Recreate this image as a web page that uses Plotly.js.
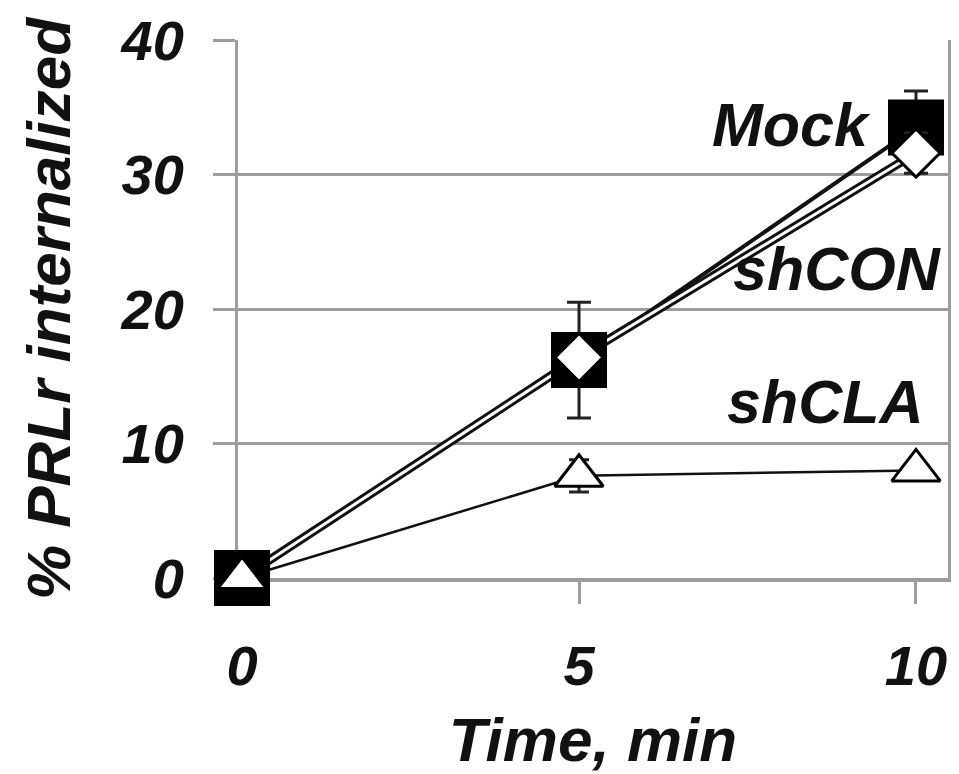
<!DOCTYPE html>
<html>
<head>
<meta charset="utf-8">
<script src="https://cdn.plot.ly/plotly-3.0.1.min.js"></script>
<style>
  html, body { margin: 0; padding: 0; background: #fff; }
  #chart { width: 959px; height: 774px; }
</style>
</head>
<body>
<div id="chart"></div>
<script>
// Time points (min)
const timeMin = [0, 5, 10];

// % PRLr internalized per condition
const mockValues = [0, 16.2, 33.5];
const mockErrors = [0, 4.3, 2.7];

const shconValues = [0, 16.4, 31.6];
const shconErrors = [0, 0.8, 1.5];

const shclaValues = [0, 7.6, 8.0];
const shclaErrors = [0, 1.2, 0];

const seriesLabels = ['Mock', 'shCON', 'shCLA'];
const xTickVals = [0, 5, 10];
const yTickVals = [0, 10, 20, 30, 40];

const gridGray = '#9d9d9d';
const fontFamily = '"Liberation Sans", Arial, sans-serif';
const tickFont = { family: fontFamily, size: 56, color: '#111', weight: 'bold', style: 'italic' };
const titleFont = { family: fontFamily, size: 62, color: '#111', weight: 'bold', style: 'italic' };
const labelFont = { family: fontFamily, size: 61, color: '#111', weight: 'bold', style: 'italic' };

const traces = [
  // connecting lines first, so every marker sits above them
  { x: timeMin, y: shclaValues, mode: 'lines', cliponaxis: false,
    line: { color: '#111', width: 2.5 }, hoverinfo: 'skip' },
  { x: timeMin, y: mockValues, mode: 'lines', cliponaxis: false,
    line: { color: '#111', width: 4 }, hoverinfo: 'skip' },
  { x: timeMin, y: shconValues, mode: 'lines', cliponaxis: false,
    line: { color: '#111', width: 9 }, hoverinfo: 'skip' },
  { x: timeMin, y: shconValues, mode: 'lines', cliponaxis: false,
    line: { color: '#fff', width: 3 }, hoverinfo: 'skip' },
  // markers with error bars
  { x: timeMin, y: mockValues, mode: 'markers', name: seriesLabels[0], cliponaxis: false,
    marker: { symbol: 'square', size: 56, color: '#000', opacity: 1, line: { width: 0 } },
    error_y: { type: 'data', array: mockErrors, visible: true,
               color: '#222', thickness: 3, width: 12 } },
  { x: timeMin, y: shconValues, mode: 'markers', name: seriesLabels[1], cliponaxis: false,
    marker: { symbol: 'diamond', size: [0, 37, 37], color: '#fff', opacity: 1,
              line: { color: '#000', width: 3 } },
    error_y: { type: 'data', array: shconErrors, visible: true,
               color: '#222', thickness: 3, width: 12 } },
  { x: timeMin, y: shclaValues, mode: 'markers', name: seriesLabels[2], cliponaxis: false,
    marker: { symbol: 'triangle-up', size: 42, color: '#fff', opacity: 1,
              line: { color: '#000', width: 3 } },
    error_y: { type: 'data', array: shclaErrors, visible: true,
               color: '#222', thickness: 3, width: 10 } }
];

const layout = {
  width: 959, height: 774,
  margin: { l: 238, r: 11, t: 40, b: 196 },
  paper_bgcolor: '#fff', plot_bgcolor: '#fff',
  showlegend: false,
  font: tickFont,
  xaxis: {
    range: [-0.06, 10.475],
    layer: 'below traces',
    tickvals: xTickVals, ticktext: xTickVals.map(String),
    ticks: 'outside', ticklen: 22, tickwidth: 3, tickcolor: gridGray,
    ticklabelstandoff: 14,
    showgrid: false, zeroline: false,
    showline: true, linecolor: gridGray, linewidth: 4,
    tickfont: tickFont,
    title: { text: 'Time, min', font: titleFont, standoff: 22 }
  },
  yaxis: {
    range: [0, 40],
    layer: 'below traces',
    tickvals: yTickVals, ticktext: yTickVals.map(String),
    ticks: 'outside', ticklen: 22, tickwidth: 3, tickcolor: gridGray,
    ticklabelstandoff: 18,
    showgrid: true, gridcolor: gridGray, gridwidth: 3,
    zeroline: false,
    showline: true, linecolor: gridGray, linewidth: 3, mirror: true,
    tickfont: tickFont,
    title: { text: '% PRLr internalized', font: titleFont, standoff: 30 }
  },
  annotations: [
    { x: 9.36, y: 31.0, xref: 'x', yref: 'y', text: seriesLabels[0],
      xanchor: 'right', yanchor: 'bottom', showarrow: false, font: labelFont },
    { x: 10.42, y: 20.3, xref: 'x', yref: 'y', text: seriesLabels[1],
      xanchor: 'right', yanchor: 'bottom', showarrow: false, font: labelFont },
    { x: 10.15, y: 10.4, xref: 'x', yref: 'y', text: seriesLabels[2],
      xanchor: 'right', yanchor: 'bottom', showarrow: false, font: labelFont }
  ]
};

Plotly.newPlot('chart', traces, layout, { displayModeBar: false, staticPlot: true });
</script>
</body>
</html>
